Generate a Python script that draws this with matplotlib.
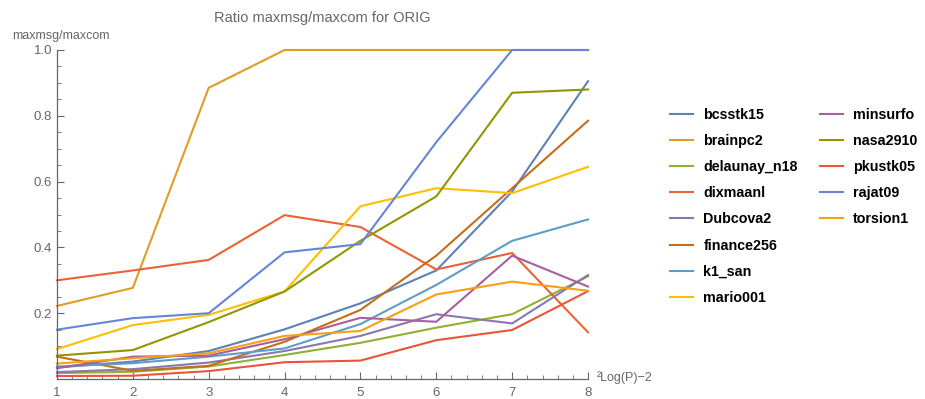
import matplotlib.pyplot as plt
from matplotlib.ticker import MultipleLocator

# processor exponent on the x axis
log_p = [1, 2, 3, 4, 5, 6, 7, 8]

bcsstk15 = [0.035, 0.053, 0.085, 0.151, 0.230, 0.330, 0.570, 0.905]
brainpc2 = [0.222, 0.277, 0.885, 1.0, 1.0, 1.0, 1.0, 1.0]
delaunay_n18 = [0.018, 0.022, 0.038, 0.073, 0.110, 0.156, 0.197, 0.312]
dixmaanl = [0.300, 0.330, 0.362, 0.498, 0.462, 0.333, 0.383, 0.142]
dubcova2 = [0.021, 0.030, 0.050, 0.085, 0.131, 0.197, 0.169, 0.316]
finance256 = [0.068, 0.025, 0.040, 0.113, 0.210, 0.375, 0.580, 0.785]
k1_san = [0.038, 0.048, 0.068, 0.093, 0.167, 0.286, 0.420, 0.485]
mario001 = [0.091, 0.164, 0.195, 0.266, 0.525, 0.580, 0.565, 0.645]
minsurfo = [0.033, 0.068, 0.071, 0.121, 0.186, 0.174, 0.375, 0.281]
nasa2910 = [0.071, 0.088, 0.173, 0.266, 0.420, 0.555, 0.870, 0.880]
pkustk05 = [0.009, 0.010, 0.024, 0.051, 0.056, 0.118, 0.149, 0.267]
rajat09 = [0.150, 0.185, 0.200, 0.385, 0.410, 0.720, 1.0, 1.0]
torsion1 = [0.047, 0.063, 0.078, 0.131, 0.146, 0.257, 0.296, 0.268]

names = ["bcsstk15", "brainpc2", "delaunay_n18", "dixmaanl", "Dubcova2",
         "finance256", "k1_san", "mario001", "minsurfo", "nasa2910",
         "pkustk05", "rajat09", "torsion1"]
series = [bcsstk15, brainpc2, delaunay_n18, dixmaanl, dubcova2, finance256,
          k1_san, mario001, minsurfo, nasa2910, pkustk05, rajat09, torsion1]
colors = ["#5E81B5", "#E19C24", "#8FB032", "#EB6235", "#8778B3", "#C56E1A",
          "#5D9EC7", "#FFBF00", "#A5609D", "#929600", "#E95536", "#6685D9",
          "#F89F13"]

plt.rcParams['font.family'] = ['Liberation Sans', 'DejaVu Sans']
gray = "#666666"

fig = plt.figure(figsize=(9.25, 3.99), dpi=100)
ax = fig.add_axes([0.0616, 0.0501, 0.5741, 0.8246])

lines = []
for vals, name, c in zip(series, names, colors):
    ln, = ax.plot(log_p, vals, color=c, lw=1.5, label=name, clip_on=False)
    lines.append(ln)

ax.set_xlim(1, 8)
ax.set_ylim(0, 1.0)
ax.set_xticks(log_p)
ax.set_yticks([0.2, 0.4, 0.6, 0.8, 1.0])
ax.set_yticklabels(["0.2", "0.4", "0.6", "0.8", "1.0"])
ax.xaxis.set_minor_locator(MultipleLocator(0.2))
ax.yaxis.set_minor_locator(MultipleLocator(0.05))
ax.tick_params(which='both', direction='in', colors=gray, labelsize=9.5)
ax.tick_params(which='major', length=5, width=0.8)
ax.tick_params(which='minor', length=3, width=0.6)
ax.tick_params(axis='x', pad=6)
for side in ["top", "right"]:
    ax.spines[side].set_visible(False)
for side in ["left", "bottom"]:
    ax.spines[side].set_color(gray)
    ax.spines[side].set_linewidth(0.9)

ax.set_title("Ratio maxmsg/maxcom for ORIG", color=gray, fontsize=10.5, pad=20)
fig.text(12 / 925, 1 - 36 / 399, "maxmsg/maxcom", color=gray, fontsize=9,
         va='center', ha='left')
fig.text(597 / 925, 1 - 378 / 399, "²Log(P)\u22122", color=gray, fontsize=9,
         va='center', ha='left')

# legend in two columns: first eight, then the remaining five
leg_kw = dict(loc='upper left', frameon=False, handlelength=1.6,
              handletextpad=0.75, labelspacing=0.85, borderaxespad=0,
              prop={'weight': 'bold', 'size': 10.3})
leg1 = fig.legend(handles=lines[:8], bbox_to_anchor=(664 / 925, 1 - 102 / 399),
                  **leg_kw)
leg2 = fig.legend(handles=lines[8:], bbox_to_anchor=(814 / 925, 1 - 102 / 399),
                  **leg_kw)

fig.savefig("out.png", dpi=100)
